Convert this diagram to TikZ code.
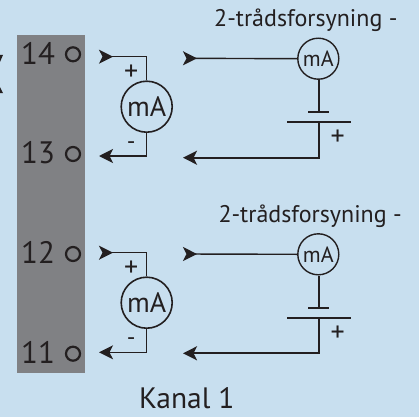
\documentclass[tikz,border=0pt]{standalone}
\usepackage{fontspec}
\setmainfont{PT Sans}
\usetikzlibrary{arrows.meta}
\definecolor{bgblue}{RGB}{200,223,239}
\definecolor{blockgray}{RGB}{128,129,132}
\definecolor{inkblack}{RGB}{35,31,32}
\tikzset{
  wire/.style={draw=inkblack,line width=1.4pt},
  lead/.style={draw=inkblack,line width=1.4pt},
  tipout/.style={-{Stealth[inset=3.5pt,length=14pt,width=14pt]}},
  tipback/.style={{Stealth[reversed,inset=3.5pt,length=14pt,width=14pt]}-},
  pin/.style={circle,draw=inkblack,line width=2.2pt,minimum size=14pt,inner sep=0pt},
  termlabel/.style={text=inkblack,font=\fontsize{31}{31}\selectfont,inner sep=0pt},
  meterbig/.style={circle,draw=inkblack,line width=1.6pt,minimum size=51pt,inner sep=0pt,text=inkblack,font=\fontsize{28}{28}\selectfont},
  metersmall/.style={circle,draw=inkblack,line width=1.4pt,minimum size=41pt,inner sep=0pt,text=inkblack,font=\fontsize{22}{22}\selectfont},
  sign/.style={text=inkblack,font=\fontsize{28}{28}\selectfont,inner sep=0pt},
  minus/.style={text=inkblack,font=\fontsize{24}{24}\selectfont,inner sep=0pt},
  caption/.style={text=inkblack,font=\fontsize{24}{24}\selectfont,inner sep=0pt,anchor=base west,text depth=0pt},
  plate/.style={draw=inkblack,line width=2.2pt},
}
\begin{document}
\begin{tikzpicture}[x=1pt,y=-1pt]
\useasboundingbox (0,0) rectangle (419,417);
\fill [bgblue] (0,0) rectangle (419,417);
\fill [blockgray] (17,35) rectangle (85,373);
% cut-off marks at the left edge
\fill [inkblack] (0,55) -- (3,55) -- (0,62) -- cycle;
\fill [inkblack] (0,87) -- (3,93) -- (0,93) -- cycle;
% terminals
\foreach \name/\ypos in {14/53,13/153,12/252.5,11/352} {
  \node [termlabel] (t\name) at (38,\ypos) {\name};
}
\foreach \name/\ypos in {14/54.3,13/154,12/254,11/353.7} {
  \node [pin] (p\name) at (73,\ypos) {};
}
% upper channel
\coordinate (a14) at (99,56.7);
\coordinate (a13) at (99,156);
\coordinate (b14) at (183,58.3);
\coordinate (b13) at (183,157.7);
\node [meterbig] (m1) at (146.7,106.7) {mA};
\node [sign] at (131.3,72.5) {+};
\node [minus] at (131.3,145.5) {-};
\draw [wire,tipback] (a14) -| (m1.north);
\draw [wire,tipout] (m1.south) |- (a13);
\node [metersmall] (s1) at (318.3,58.7) {mA};
\node [caption] at (214,26.7) {2-trådsforsyning -};
\node [sign] at (337.7,137.5) {+};
\coordinate (n1) at (318.7,112.3);
\coordinate (c1) at (318.7,122);
\coordinate (n1w) at (308,112.3);
\coordinate (n1e) at (329,112.3);
\coordinate (c1w) at (287.3,122);
\coordinate (c1e) at (351.3,122);
\draw [plate] (s1.south -| n1) -- (n1);
\draw [plate] (n1w) -- (n1e);
\draw [plate] (c1w) -- (c1e);
\draw [plate,tipout] (c1) |- (b13);
\draw [lead,tipback] (b14) -- (s1.west);
% lower channel
\coordinate (a12) at (99,252.7);
\coordinate (a11) at (99,352.3);
\coordinate (b12) at (183,254);
\coordinate (b11) at (183,353.3);
\node [meterbig] (m2) at (146.7,302.7) {mA};
\node [sign] at (131.3,268.5) {+};
\node [minus] at (131.3,341.5) {-};
\draw [wire,tipback] (a12) -| (m2.north);
\draw [wire,tipout] (m2.south) |- (a11);
\node [metersmall] (s2) at (318.3,254.3) {mA};
\node [caption] at (218.3,222) {2-trådsforsyning -};
\node [sign] at (337.7,333.5) {+};
\coordinate (n2) at (318.7,308);
\coordinate (c2) at (318.7,317.7);
\coordinate (n2w) at (308,308);
\coordinate (n2e) at (329,308);
\coordinate (c2w) at (287.3,317.7);
\coordinate (c2e) at (351.3,317.7);
\draw [plate] (s2.south -| n2) -- (n2);
\draw [plate] (n2w) -- (n2e);
\draw [plate] (c2w) -- (c2e);
\draw [plate,tipout] (c2) |- (b11);
\draw [lead,tipback] (b12) -- (s2.west);
\node [caption,font=\fontsize{29.5}{30}\selectfont] at (139,408.6) {Kanal 1};
\end{tikzpicture}
\end{document}
